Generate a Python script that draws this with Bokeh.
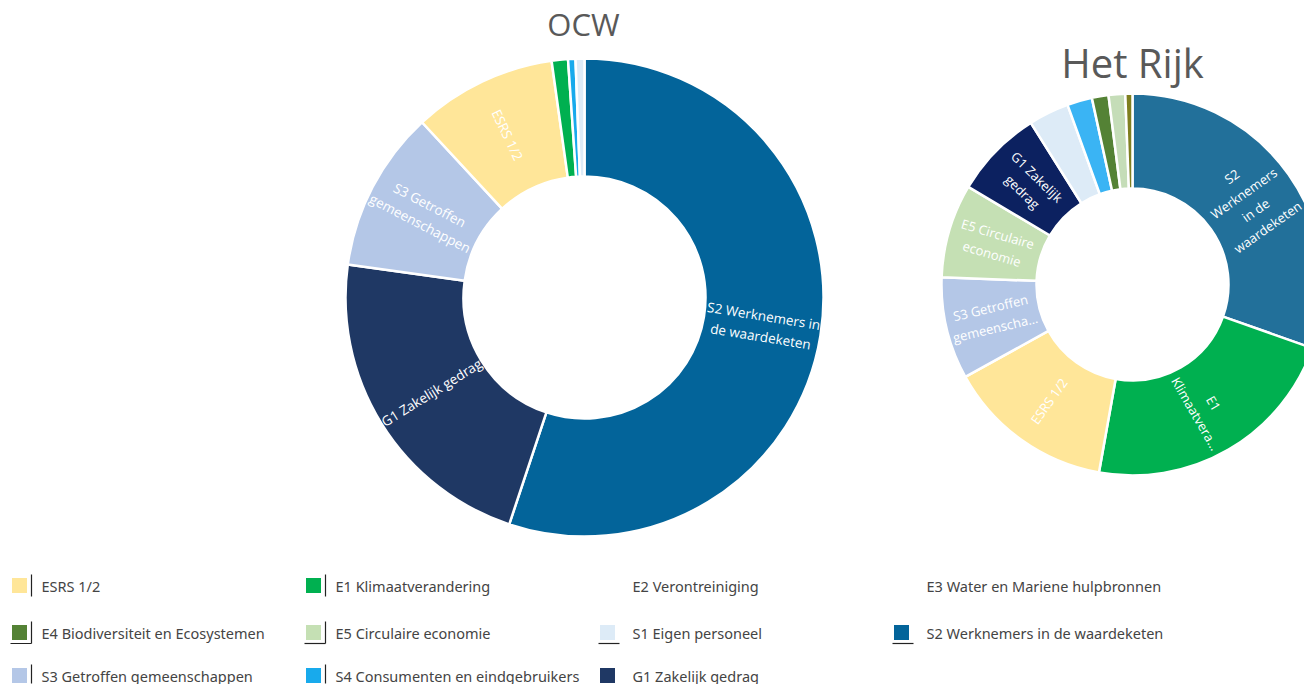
import math
from bokeh.plotting import figure
from bokeh.models import Range1d, ColumnDataSource
from bokeh.core.properties import value
from bokeh.embed import file_html
from bokeh.resources import INLINE

# ---------------- data ----------------
categories = [
    "ESRS 1/2", "E1 Klimaatverandering", "E2 Verontreiniging",
    "E3 Water en Mariene hulpbronnen", "E4 Biodiversiteit en Ecosystemen",
    "E5 Circulaire economie", "S1 Eigen personeel",
    "S2 Werknemers in de waardeketen", "S3 Getroffen gemeenschappen",
    "S4 Consumenten en eindgebruikers", "G1 Zakelijk gedrag",
]
category_colors = [
    "#FFE699", "#00B050", "#7F7F1F", "#C5DDB8", "#548235",
    "#C5E0B4", "#DDEBF7", "#03649A", "#B4C7E7", "#18AAEC", "#1F3864",
]
legend_has_swatch = [True, True, False, False, True, True, True, True, True, True, True]

ocw_title = "OCW"
ocw_slices = ["S2 Werknemers in de waardeketen", "G1 Zakelijk gedrag",
              "S3 Getroffen gemeenschappen", "ESRS 1/2", "E1 Klimaatverandering",
              "S4 Consumenten en eindgebruikers", "S1 Eigen personeel"]
ocw_values = [55.1, 22.1, 10.9, 9.7, 1.1, 0.5, 0.6]
ocw_slice_labels = ["S2 Werknemers in\nde waardeketen", "G1 Zakelijk gedrag",
                    "S3 Getroffen\ngemeenschappen", "ESRS 1/2", "", "", ""]

rijk_title = "Het Rijk"
rijk_slices = ["S2 Werknemers in de waardeketen", "E1 Klimaatverandering", "ESRS 1/2",
               "S3 Getroffen gemeenschappen", "E5 Circulaire economie", "G1 Zakelijk gedrag",
               "S1 Eigen personeel", "S4 Consumenten en eindgebruikers",
               "E4 Biodiversiteit en Ecosystemen", "E3 Water en Mariene hulpbronnen",
               "E2 Verontreiniging"]
rijk_values = [30.3, 22.3, 14.1, 8.6, 7.9, 7.5, 3.4, 2.1, 1.4, 1.4, 0.6]
rijk_slice_labels = ["S2\nWerknemers\nin de\nwaardeketen", "E1\nKlimaatvera...", "ESRS 1/2",
                     "S3 Getroffen\ngemeenscha...", "E5 Circulaire\neconomie", "G1 Zakelijk\ngedrag",
                     "", "", "", "", ""]
rijk_color_override = {"S2 Werknemers in de waardeketen": "#22709A",
                       "G1 Zakelijk gedrag": "#0C2160",
                       "S4 Consumenten en eindgebruikers": "#3AB4F4"}

# ---------------- figure ----------------
W, H = 1304, 684
p = figure(width=W, height=H, x_range=Range1d(0, W), y_range=Range1d(0, H),
           output_backend="svg", toolbar_location=None, min_border=0,
           x_axis_location=None, y_axis_location=None)
p.grid.visible = False
p.outline_line_color = None
p.background_fill_color = "white"
p.border_fill_color = "white"

def py(y_px):
    return H - y_px

FONT = value("Open Sans")
color_of = dict(zip(categories, category_colors))


def donut(cx, cy, r_out, r_in, names, vals, labels, label_size, overrides=None):
    overrides = overrides or {}
    total = float(sum(vals))
    starts, ends, cols = [], [], []
    lx, ly, la, lt = [], [], [], []
    cum = 0.0
    r_mid = (r_out + r_in) / 2.0
    for n, v, lab in zip(names, vals, labels):
        a0 = math.pi / 2 - 2 * math.pi * cum / total
        cum += v
        a1 = math.pi / 2 - 2 * math.pi * cum / total
        starts.append(a0)
        ends.append(a1)
        cols.append(overrides.get(n, color_of[n]))
        if lab:
            mid = (a0 + a1) / 2.0
            th = math.atan2(math.sin(mid), math.cos(mid))
            ang = th
            if ang > math.pi / 2:
                ang -= math.pi
            elif ang < -math.pi / 2:
                ang += math.pi
            lx.append(cx + r_mid * math.cos(mid))
            ly.append(cy + r_mid * math.sin(mid))
            la.append(ang)
            lt.append(lab)
    src = ColumnDataSource(dict(start=starts, end=ends, color=cols))
    p.annular_wedge(x=cx, y=cy, inner_radius=r_in, outer_radius=r_out,
                    start_angle="start", end_angle="end", direction="clock",
                    fill_color="color", line_color="white", line_width=2.5, source=src)
    lsrc = ColumnDataSource(dict(x=lx, y=ly, angle=la, text=lt))
    p.text(x="x", y="y", text="text", angle="angle", source=lsrc,
           text_color="white", text_font=FONT, text_font_size=label_size,
           text_align="center", text_baseline="middle", text_line_height=1.15)


donut(584, py(297), 239, 121, ocw_slices, ocw_values, ocw_slice_labels, "13.5px")
donut(1132, py(284), 191, 96, rijk_slices, rijk_values, rijk_slice_labels, "13px",
      rijk_color_override)

# titles
p.text(x=[583], y=[py(23)], text=[ocw_title], text_color="#595959", text_font=FONT,
       text_font_size="31px", text_align="center", text_baseline="middle")
p.text(x=[1132], y=[py(62)], text=[rijk_title], text_color="#595959", text_font=FONT,
       text_font_size="40px", text_align="center", text_baseline="middle")

# legend
col_x = [10, 304, 598, 892]
row_y = [585, 632, 675]
sw_x, sw_y, sw_c = [], [], []
tx, ty, tt = [], [], []
for i, (name, col, has) in enumerate(zip(categories, category_colors, legend_has_swatch)):
    c, r = i % 4, i // 4
    x0 = col_x[c]
    y0 = row_y[r]
    if has:
        sw_x.append(x0 + 9)
        sw_y.append(py(y0))
        sw_c.append(col)
    tx.append(x0 + 31 + (3 if c >= 2 else 0))
    ty.append(py(y0))
    tt.append(name)
p.rect(x=sw_x, y=sw_y, width=15, height=15, width_units="screen", height_units="screen",
       fill_color=sw_c, line_color=None)
p.text(x=tx, y=ty, text=tt, text_color="#444444", text_font=value("Noto Sans"),
       text_font_size="14.5px", text_align="left", text_baseline="middle")

# small separator marks next to some legend swatches (as in the picture)
vmark = ["ESRS 1/2", "E1 Klimaatverandering", "E4 Biodiversiteit en Ecosystemen",
         "E5 Circulaire economie", "S3 Getroffen gemeenschappen", "S4 Consumenten en eindgebruikers"]
hmark = ["E4 Biodiversiteit en Ecosystemen", "E5 Circulaire economie",
         "S1 Eigen personeel", "S2 Werknemers in de waardeketen"]
vx0, vy0, vx1, vy1 = [], [], [], []
hx0, hy0, hx1, hy1 = [], [], [], []
for i, name in enumerate(categories):
    c, r = i % 4, i // 4
    x0 = col_x[c]
    y0 = row_y[r]
    if name in vmark:
        vx0.append(x0 + 21); vx1.append(x0 + 21)
        vy0.append(py(y0 - 11)); vy1.append(py(min(y0 + 11, H - 1)))
    if name in hmark:
        hx0.append(x0); hx1.append(x0 + 21)
        hy0.append(py(y0 + 11)); hy1.append(py(y0 + 11))
p.segment(x0=vx0, y0=vy0, x1=vx1, y1=vy1, line_color="#222222", line_width=1.2)
p.segment(x0=hx0, y0=hy0, x1=hx1, y1=hy1, line_color="#222222", line_width=1.2)

open("out.html", "w").write(file_html(p, INLINE))
